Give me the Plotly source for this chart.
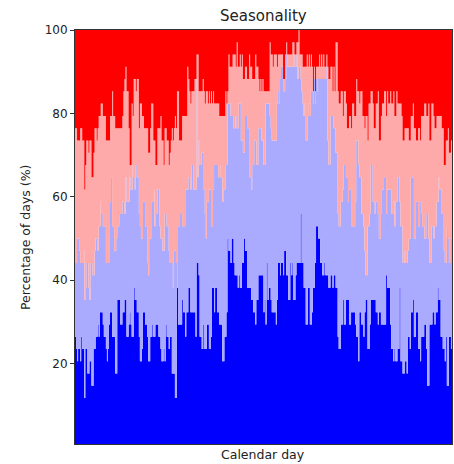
import numpy as np
import plotly.graph_objects as go

N_YEARS = 34  # years in the record; counts below are years per calendar day

# Cumulative counts (years) per calendar day, from the bottom of the stack
blue_top = [
    9,8,7,8,8,7,9,8,8,4, 8,8,6,6,7,7,5,5,8,8, 9,9,10,9,11,11,11,10,9,9,
    8,7,8,10,11,11,9,9,9,6, 6,12,12,12,10,10,11,11,12,12, 9,9,10,11,10,9,9,13,12,12,
    11,11,9,7,7,8,11,11,10,10, 9,7,7,9,9,10,9,9,10,10, 10,9,9,8,7,7,8,7,10,9,
    9,8,9,9,6,6,6,4,4,13, 10,10,10,10,12,11,11,9,11,11, 13,13,11,11,11,11,11,9,15,15,
    14,9,9,8,10,8,8,8,10,10, 8,8,9,13,13,11,13,13,11,11, 10,10,10,7,7,9,9,11,17,16,
    16,15,17,17,15,14,14,14,13,14, 13,13,15,15,17,16,16,13,13,13, 13,12,12,11,11,10,12,12,14,14,
    14,14,14,11,12,10,15,12,13,13, 12,11,11,11,11,10,12,15,15,14, 15,15,14,16,16,14,14,12,12,15,
    14,15,12,12,14,15,15,15,15,19, 15,15,13,13,10,10,13,13,10,10, 11,13,13,15,18,18,17,17,15,15,
    14,14,15,14,14,14,13,13,14,14, 13,14,14,13,13,9,8,8,10,10, 12,10,10,12,12,12,10,10,11,11,
    11,11,10,9,9,7,11,11,10,10, 9,11,12,12,8,8,10,12,12,12, 12,12,11,11,10,11,11,10,10,10,
    10,10,14,13,13,13,10,8,8,7, 8,7,7,8,8,13,7,7,6,6, 7,7,6,9,9,8,11,11,12,9,
    9,11,11,8,8,7,9,9,9,10, 10,8,5,5,10,10,10,11,11,10, 11,11,13,12,12,9,9,8,8,7,
    9,5,5,9,9,8,
]
lightblue_top = [
    15,15,17,17,16,15,15,15,16,12, 13,15,15,13,12,15,15,14,14,16, 17,17,16,18,18,20,19,18,18,18,
    15,15,15,15,20,22,18,18,16,16, 17,18,18,19,19,19,20,20,19,22, 20,20,20,22,21,21,23,22,21,23,
    22,22,19,18,17,17,20,20,18,18, 15,14,17,17,20,20,21,18,19,19, 21,21,18,17,17,16,16,19,19,18,
    18,16,15,15,15,13,16,16,15,13, 18,18,19,19,18,18,18,21,21,21, 22,22,21,23,23,21,21,21,30,22,
    25,23,23,24,24,21,19,17,20,20, 21,21,18,18,21,23,23,23,23,22, 23,22,22,20,21,21,23,23,28,28,
    28,27,27,27,26,26,27,26,26,28, 28,25,25,24,24,27,27,26,26,22, 22,21,23,23,25,25,23,23,26,26,
    26,25,25,23,23,28,28,28,28,27, 26,25,25,25,25,25,28,29,28,30, 31,31,29,29,30,32,31,31,31,31,
    31,31,32,31,31,32,30,31,31,30, 29,28,27,28,25,25,27,28,27,29, 29,28,30,28,30,29,30,30,30,30,
    30,30,30,30,31,25,23,23,27,27, 27,26,26,24,24,19,18,18,20,20, 21,23,23,22,22,20,21,21,18,18,
    18,18,20,25,25,23,22,22,19,19, 18,16,14,14,18,18,19,23,23,20, 20,19,20,20,19,17,17,19,21,21,
    22,22,19,21,21,21,21,19,19,20, 18,20,20,22,22,20,18,18,15,15, 16,15,15,16,17,17,22,22,22,17,
    17,20,20,18,18,20,19,18,18,17, 17,19,19,17,15,15,18,18,17,18, 18,20,20,22,21,21,19,19,16,15,
    15,18,17,15,15,17,
]
pink_top = [
    26,26,25,25,25,26,26,25,25,21, 23,25,25,24,25,25,22,22,24,26, 26,25,26,27,27,28,28,27,27,27,
    25,25,25,25,27,27,29,27,27,26, 26,26,26,26,26,26,27,29,30,31, 29,29,26,23,23,28,27,30,30,29,
    30,30,26,28,28,27,27,26,26,26, 26,24,24,26,28,28,25,25,23,23, 26,26,26,27,25,25,23,26,26,25,
    25,23,24,25,26,25,26,27,26,29, 29,25,25,25,27,27,27,27,27,31, 30,29,28,29,29,29,30,30,32,32,
    29,29,29,29,30,29,28,29,29,28, 29,28,29,28,29,28,28,28,28,28, 27,27,27,27,27,27,29,28,29,32,
    31,31,31,32,32,32,31,33,31,31, 32,31,32,30,30,31,31,30,30,32, 31,31,30,30,30,32,31,31,30,29,
    30,29,30,29,29,29,29,29,29,33, 32,32,31,32,32,32,31,32,32,32, 32,32,30,30,32,33,32,32,32,32,
    32,33,33,32,32,33,33,34,32,32, 32,31,31,31,31,32,31,32,31,32, 31,29,31,29,31,31,31,32,31,32,
    31,32,31,31,32,31,30,30,31,31, 29,31,29,33,33,29,28,28,29,29, 27,29,29,28,26,26,27,27,26,28,
    28,27,27,30,29,29,28,29,29,27, 27,26,27,27,25,28,28,29,29,28, 26,26,28,28,29,25,25,27,28,28,
    29,29,27,29,28,28,29,28,28,29, 27,27,29,28,28,28,28,27,25,25, 26,26,26,26,25,25,27,27,28,26,
    26,25,25,26,26,25,27,27,27,28, 28,27,27,28,25,25,28,28,27,26, 26,27,27,27,27,27,26,26,23,23,
    25,25,26,24,24,25,
]

days = np.arange(len(blue_top))
scale = 100.0 / N_YEARS
b = np.array(blue_top) * scale
lb = np.maximum(np.array(lightblue_top) * scale, b)
pk = np.maximum(np.array(pink_top) * scale, lb)
top = np.full(len(days), 100.0)

# step edges: each calendar day spans [d, d+1)
xs = np.append(days, days[-1] + 1)
def ext(a):
    return np.append(a, a[-1])

fig = go.Figure()
layers = [
    (b, "#0000ff", "tozeroy"),
    (lb, "#aaaaff", "tonexty"),
    (pk, "#ffaaaa", "tonexty"),
    (top, "#ff0000", "tonexty"),
]
for vals, col, fill in layers:
    fig.add_trace(go.Scatter(
        x=xs, y=ext(vals), mode="lines", line=dict(width=0, shape="hv", color=col),
        fill=fill, fillcolor=col, hoverinfo="skip", showlegend=False,
    ))

W, H = 454, 464
L, T, R, B = 75, 30, 2, 20
pw, ph = W - L - R, H - T - B

def px(xp):  # page pixel x -> paper x
    return (xp - L) / pw
def py(yp):  # page pixel y -> paper y
    return (H - B - yp) / ph

font = "DejaVu Sans, Arial, sans-serif"
fig.update_layout(
    width=W, height=H,
    margin=dict(l=L, r=R, t=T, b=B),
    paper_bgcolor="white", plot_bgcolor="white",
    font=dict(family=font, size=12, color="#222222"),
    showlegend=False,
    hovermode=False,
    xaxis=dict(range=[0, len(days)], showticklabels=False, ticks="", showgrid=False,
               zeroline=False, showline=True, mirror=True, linecolor="#333333", linewidth=1),
    yaxis=dict(range=[0.75, 100], tickvals=[20, 40, 60, 80, 100], ticks="outside",
               ticklen=4, tickwidth=1, tickcolor="#333333", showgrid=False, zeroline=False,
               showline=True, mirror=True, linecolor="#333333", linewidth=1,
               tickfont=dict(size=12, color="#222222")),
    annotations=[
        dict(text="Seasonality", x=px(263), y=py(16), xref="paper", yref="paper",
             xanchor="center", yanchor="middle", showarrow=False,
             font=dict(size=15, color="#222222")),
        dict(text="Calendar day", x=px(263), y=py(455), xref="paper", yref="paper",
             xanchor="center", yanchor="middle", showarrow=False,
             font=dict(size=12.5, color="#222222")),
        dict(text="Percentage of days (%)", x=px(25), y=py(237), xref="paper", yref="paper",
             xanchor="center", yanchor="middle", showarrow=False, textangle=-90,
             font=dict(size=12.5, color="#222222")),
    ],
)

fig.write_html("out.html", config={"displayModeBar": False, "staticPlot": True},
               post_script="document.body.style.margin='0';")
